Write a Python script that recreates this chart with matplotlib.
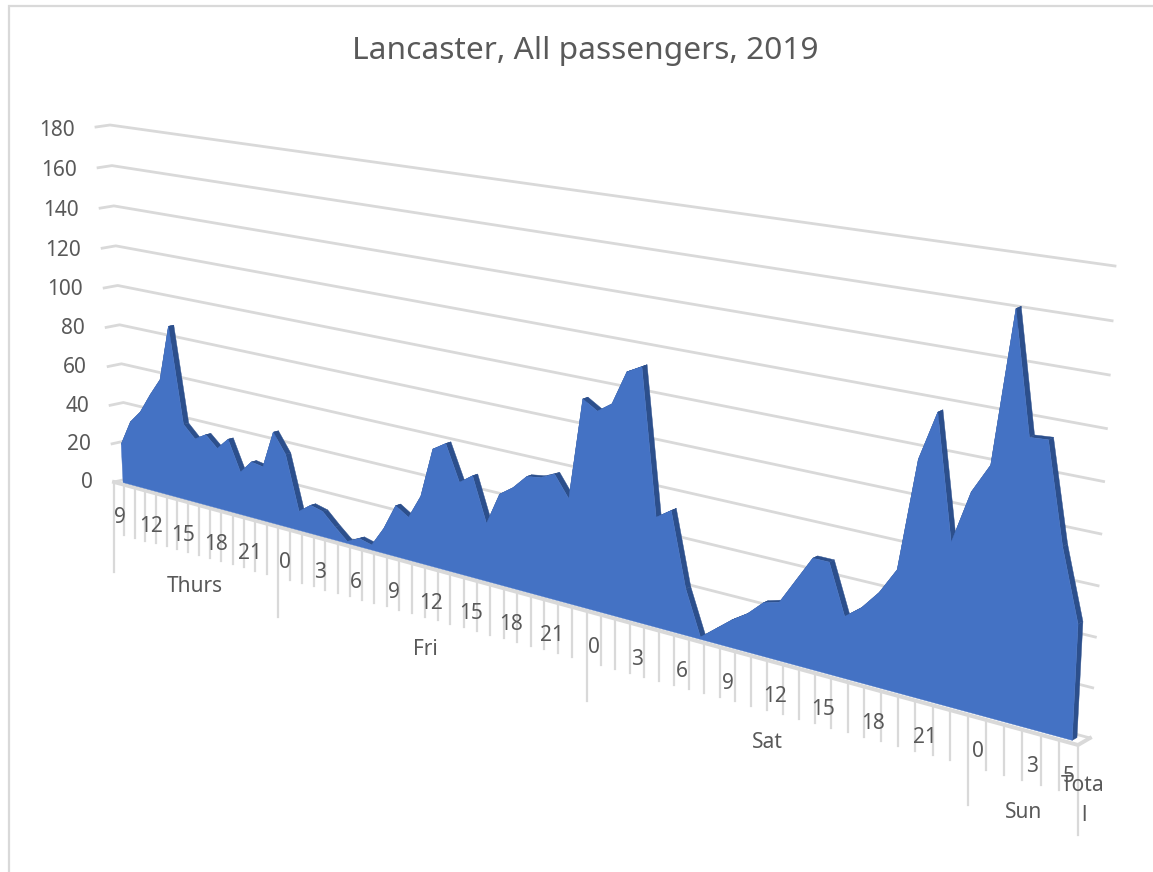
#!/usr/bin/env python3
"""Lancaster passenger counts by hour, drawn as a tilted 3D-style area chart."""
import numpy as np
import matplotlib
matplotlib.use("Agg")
import matplotlib.pyplot as plt
import matplotlib.transforms as mtransforms

plt.rcParams['font.family'] = ['Noto Sans', 'DejaVu Sans']

# Hourly passengers, Thursday 09:00 to Sunday 05:00
thurs = [20, 33, 39.5, 49.5, 58.5, 86.5, 38.5, 32.5, 36, 30.5, 36.5, 21.5, 28, 27, 45.5]
fri = [36, 9.5, 14, 12.5, 6.5, 1, 4, 2.5, 12, 24.5, 20.5, 32, 55.5, 59.5, 43, 47.5,
       27, 42, 46.5, 53, 54, 57, 47.5, 93]
sat = [89, 93.5, 108.5, 112, 48.5, 53, 20.5, 1, 6.5, 12, 16.5, 23, 25, 36, 47, 47,
       26, 31.5, 39.5, 50.5, 96.5, 116.5, 66.5, 88]
sun = [100, 161, 113.5, 114, 74.5, 46]
passengers = thurs + fri + sat + sun

y_ticks = [0, 20, 40, 60, 80, 100, 120, 140, 160, 180]
n_cats = len(passengers)
y_top = 180

# (slot, label) along the bottom axis
hour_labels = [(0, "9"), (3, "12"), (6, "15"), (9, "18"), (12, "21"),
               (15, "0"), (18, "3"), (21, "6"), (24, "9"), (27, "12"), (30, "15"),
               (33, "18"), (36, "21"),
               (39, "0"), (42, "3"), (45, "6"), (48, "9"), (51, "12"), (54, "15"),
               (57, "18"), (60, "21"),
               (63, "0"), (66, "3"), (68, "5")]
day_names = ["Thurs", "Fri", "Sat", "Sun"]
day_edges = [0, 15, 39, 63, 69]

GRID = '#d9d9d9'
TEXT = '#595959'
BLUE = '#4472c4'
DARK = '#2c4f8c'


class PlaneProjection(mtransforms.Transform):
    """Homography taking (slot, value) onto a quadrilateral in pixel space."""
    input_dims = 2
    output_dims = 2

    def __init__(self, corners):
        super().__init__()
        src = [(0, 0), (n_cats, 0), (0, y_top), (n_cats, y_top)]
        rows, rhs = [], []
        for (a, b), (x, y) in zip(src, corners):
            rows.append([a, b, 1, 0, 0, 0, -a * x, -b * x])
            rows.append([0, 0, 0, a, b, 1, -a * y, -b * y])
            rhs += [x, y]
        h = np.linalg.solve(np.array(rows, float), np.array(rhs, float))
        self.h = np.append(h, 1).reshape(3, 3)

    def transform_non_affine(self, values):
        pts = np.c_[values, np.ones(len(values))] @ self.h.T
        return pts[:, :2] / pts[:, 2:]


# bottom-left, bottom-right, top-left, top-right of the box, pixel coordinates
front_corners = np.array([(114, 482), (1078, 745), (96, 127), (1102, 272)], float)
back_corners = np.array([(127, 479), (1090, 738), (110, 125), (1115, 266)], float)


def plane_at(depth):
    return PlaneProjection(front_corners + depth * (back_corners - front_corners))


front = plane_at(0)
back = plane_at(1)
face = plane_at(0.3)
rear = plane_at(0.7)

fig = plt.figure(figsize=(11.53, 8.72), dpi=100)
ax = fig.add_axes([0, 0, 1, 1])
ax.set_xlim(0, 1153)
ax.set_ylim(872, 0)
ax.set_autoscale_on(False)
ax.axis('off')

# Chart frame, only the top and left edges fall inside the image
ax.plot([9, 9, 1153], [872, 6, 6], color=GRID, lw=1.6, solid_joinstyle='miter')

ax.text(585, 51, "Lancaster, All passengers, 2019", ha='center', va='center',
        fontsize=22.8, color=TEXT)

# Gridlines run along the side wall, then along the back wall
for v in y_ticks:
    fx, fy = front.transform([[0, v]])[0]
    bx, by = back.transform([[0, v]])[0]
    rx, ry = back.transform([[n_cats, v]])[0]
    ax.plot([fx, bx, rx], [fy, by, ry], color=GRID, lw=2.0, zorder=1)
    ax.text(fx - 21, fy + 0.5 + 2.5 * v / y_top, str(v), ha='right', va='center',
            fontsize=15, color=TEXT)

# Floor edges
pts = np.array([front.transform([[0, 0]])[0], front.transform([[n_cats, 0]])[0],
                back.transform([[n_cats, 0]])[0]])
ax.plot(pts[:, 0], pts[:, 1], color=GRID, lw=2.8, zorder=1)

# Tick marks hang straight down from the front edge
for k in range(n_cats + 1):
    x, y = front.transform([[k, 0]])[0]
    length = 90 if k in day_edges else 50
    ax.plot([x, x], [y, y + length], color=GRID, lw=1.6, zorder=1)

for k, label in hour_labels:
    x, y = front.transform([[k + 0.5, 0]])[0]
    ax.text(x + 0.5, y + 34.5, label, ha='center', va='center', fontsize=15, color=TEXT, zorder=4)

for name, lo, hi in zip(day_names, day_edges[:-1], day_edges[1:]):
    x, y = front.transform([[(lo + hi) / 2, 0]])[0]
    ax.text(x + 1, y + 82.5, name, ha='center', va='center', fontsize=15, color=TEXT, zorder=4)

ax.text(1083, 785, "Tota", ha='center', va='center', fontsize=15, color=TEXT, zorder=4)
ax.text(1084, 815, "l", ha='center', va='center', fontsize=15, color=TEXT, zorder=4)

# Area: darker extruded sides first, then the front face
slots = np.arange(n_cats) + 0.5
values = np.array(passengers, float)
top_front = face.transform(np.c_[slots, values])
top_rear = rear.transform(np.c_[slots, values])
for i in range(n_cats - 1):
    quad = np.array([top_front[i], top_front[i + 1], top_rear[i + 1], top_rear[i]])
    ax.fill(quad[:, 0], quad[:, 1], color=DARK, lw=0.3, zorder=2)
end = np.array([top_front[-1], top_rear[-1],
                rear.transform([[slots[-1], 0]])[0], face.transform([[slots[-1], 0]])[0]])
ax.fill(end[:, 0], end[:, 1], color=DARK, lw=0.3, zorder=2)

outline_u = np.r_[slots, slots[-1], slots[0]]
outline_v = np.r_[values, 0, 0]
ax.fill(outline_u, outline_v, color=BLUE, lw=0.3, zorder=3, transform=face + ax.transData)

fig.savefig('out.png', dpi=100)
